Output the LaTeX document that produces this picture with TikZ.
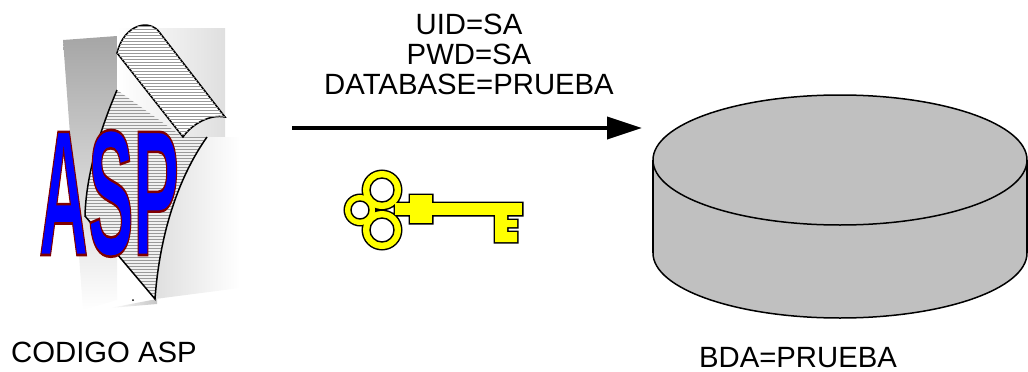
\documentclass[tikz,border=0pt]{standalone}
\usepackage{fontspec}
\setmainfont{Liberation Sans}
\usepackage{xcolor}
\usepackage{tikz}
\usetikzlibrary{arrows.meta, patterns, positioning}
\definecolor{KeyYellow}{RGB}{255,255,0}
\definecolor{DiskGray}{RGB}{192,192,192}
\definecolor{AspBlue}{RGB}{0,0,255}
\definecolor{AspRed}{RGB}{128,0,0}
% filled letters with a dark red stroke round them
\newcommand\rimtext[1]{\special{pdf:literal direct 2 Tr 2.6 w 0.5 0 0 RG}#1\special{pdf:literal direct 0 Tr}}
\tikzset{
  lbl/.style={font=\fontsize{29.3}{30}\selectfont, inner sep=0pt, align=center},
  asptxt/.style={font=\fontsize{179}{179}\selectfont\bfseries, inner sep=0pt, anchor=base},
  keyedge/.style={draw=black, line width=3pt},
  keyhole/.style={draw=black, line width=1.4pt, fill=white},
  curl/.style={draw=black, line width=1.5pt},
  hatch/.style={pattern=horizontal lines, pattern color=gray!80},
  disk/.style={draw=black, line width=1.5pt, fill=DiskGray},
  bigarr/.style={-{Triangle[length=35pt,width=22pt]}, line width=4pt},
}

\begin{document}
\begin{tikzpicture}[x=1pt, y=-1pt]
  \useasboundingbox (0,0) rectangle (1028,372);

  % --- ASP page with curled corner
  \shade[top color=gray!70, bottom color=white] (63,40) -- (117,36) -- (117,300) -- (83,310) -- cycle;
  \shade[left color=white, right color=gray!25] (117,28) rectangle (225,137);
  \shade[left color=gray!25, right color=white] (207,137) .. controls (180,175) and (160,230) .. (155,299) -- (240,288) -- (240,137) -- cycle;
  \shade[left color=white, right color=gray!45] (110,308) -- (157,299) -- (157,304) -- cycle;
  % folded part
  \fill[gray!12] (117,90) .. controls (100,130) and (86,175) .. (85,216) -- (155,299) .. controls (160,230) and (180,175) .. (207,137) -- (183,137) -- cycle;
  \fill[hatch] (117,90) .. controls (100,130) and (86,175) .. (85,216) -- (155,299) .. controls (160,230) and (180,175) .. (207,137) -- (183,137) -- cycle;
  \draw[curl] (117,90) .. controls (100,130) and (86,175) .. (85,216) -- (155,299) .. controls (160,230) and (180,175) .. (207,137);
  % the scroll on top
  \filldraw[curl, fill=white] (117,53) .. controls (124,24) and (150,18) .. (160,33) -- (225,117) .. controls (210,114) and (192,124) .. (183,137) -- cycle;
  \fill[hatch] (117,53) .. controls (124,24) and (150,18) .. (160,33) -- (225,117) .. controls (210,114) and (192,124) .. (183,137) -- cycle;
  \fill (133,300) circle (1);

  % ASP letters
  \node[asptxt, text=AspBlue] (asp) at (109,255) {\rimtext{\scalebox{0.38}[1]{ASP}}};

  % --- connection string and arrow
  \node[lbl, anchor=south] (cred) at (469,95) {UID=SA\\PWD=SA\\DATABASE=PRUEBA};
  \coordinate (src) at (292,128);
  \coordinate (dst) at (642,128);
  \draw[bigarr] (src) -- (dst);

  % --- key
  \draw[keyedge] (382,190) circle (19) (360,210) circle (15) (382,230) circle (19)
    (395,203) rectangle (522,215) (410,195) rectangle (432,223)
    (495,215) -- (507,215) -- (507,220) -- (517,220) -- (517,227) -- (507,227) -- (507,232) -- (517,232) -- (517,242) -- (495,242) -- cycle;
  \foreach \c/\r in {{(382,190)}/19, {(360,210)}/15, {(382,230)}/19}
    \fill[KeyYellow] \c circle (\r);
  \fill[KeyYellow] (395,203) rectangle (522,215);
  \fill[KeyYellow] (410,195) rectangle (432,223);
  \fill[KeyYellow] (495,215) -- (507,215) -- (507,220) -- (517,220) -- (517,227) -- (507,227) -- (507,232) -- (517,232) -- (517,242) -- (495,242) -- cycle;
  \foreach \c/\r in {{(382,190)}/12, {(360,210)}/9, {(382,230)}/12}
    \draw[keyhole] \c circle (\r);

  % --- database
  \filldraw[disk] (840,253) ellipse [x radius=187, y radius=65];
  \fill[DiskGray] (653,160) rectangle (1027,253);
  \draw[line width=1.5pt] (653,160) -- (653,253) (1027,160) -- (1027,253);
  \filldraw[disk] (840,160) ellipse [x radius=187, y radius=65];

  % --- captions
  \node[lbl, anchor=base] (aspname) at (104,362) {CODIGO ASP};
  \node[lbl, anchor=base] (bdaname) at (798,367) {BDA=PRUEBA};
\end{tikzpicture}
\end{document}
